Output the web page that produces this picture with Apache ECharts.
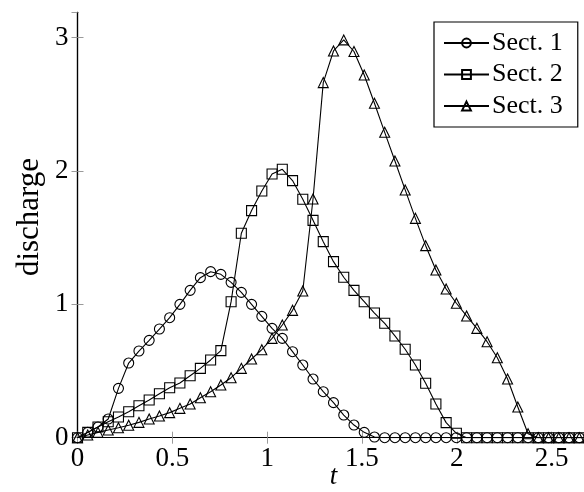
<!DOCTYPE html>
<html>
<head>
<meta charset="utf-8">
<script src="https://cdn.jsdelivr.net/npm/echarts@6/dist/echarts.min.js"></script>
<style>
  html, body { margin: 0; padding: 0; background: #fff; }
  #chart { width: 584px; height: 492px; }
</style>
</head>
<body>
<div id="chart"></div>
<script>
// Sample times (t)
const tValues = [
  0, 0.054, 0.108, 0.162, 0.216, 0.27, 0.324, 0.378, 0.432, 0.486,
  0.54, 0.594, 0.648, 0.702, 0.756, 0.81, 0.864, 0.918, 0.972, 1.026,
  1.08, 1.134, 1.188, 1.242, 1.296, 1.35, 1.404, 1.458, 1.512, 1.566,
  1.62, 1.674, 1.728, 1.782, 1.836, 1.89, 1.944, 1.998, 2.052, 2.106,
  2.16, 2.214, 2.268, 2.322, 2.376, 2.43, 2.484, 2.538, 2.592, 2.646, 2.7
];

// Discharge at each section
const sect1 = [
  0, 0.04, 0.08, 0.14, 0.37, 0.56, 0.65, 0.73, 0.815, 0.90,
  1.0, 1.105, 1.20, 1.245, 1.225, 1.165, 1.09, 1.0, 0.91, 0.82,
  0.745, 0.645, 0.545, 0.44, 0.345, 0.263, 0.17, 0.095, 0.04, 0.005,
  0, 0, 0, 0, 0, 0, 0, 0, 0, 0,
  0, 0, 0, 0, 0, 0, 0, 0, 0, 0, 0
];
const sect2 = [
  0, 0.04, 0.08, 0.12, 0.155, 0.195, 0.24, 0.283, 0.33, 0.375,
  0.41, 0.465, 0.52, 0.583, 0.653, 1.02, 1.533, 1.703, 1.85, 1.978,
  2.013, 1.928, 1.788, 1.63, 1.47, 1.32, 1.203, 1.105, 1.02, 0.935,
  0.858, 0.763, 0.663, 0.545, 0.408, 0.253, 0.113, 0.033, 0, 0,
  0, 0, 0, 0, 0, 0, 0, 0, 0, 0, 0
];
const sect3 = [
  0, 0.02, 0.04, 0.058, 0.075, 0.093, 0.115, 0.14, 0.163, 0.188,
  0.22, 0.253, 0.30, 0.345, 0.395, 0.45, 0.52, 0.59, 0.66, 0.745,
  0.845, 0.955, 1.10, 1.79, 2.663, 2.90, 2.983, 2.896, 2.72, 2.508,
  2.29, 2.075, 1.858, 1.645, 1.44, 1.258, 1.115, 1.008, 0.913, 0.82,
  0.72, 0.60, 0.44, 0.23, 0.03, 0, 0, 0, 0, 0, 0
];

const seriesNames = ['Sect. 1', 'Sect. 2', 'Sect. 3'];
const seriesSymbols = ['circle', 'rect', 'triangle'];
const xTickLabels = [0, 0.5, 1, 1.5, 2, 2.5];
const yTickLabels = [0, 1, 2, 3];

const FONT = "'Liberation Serif', 'Times New Roman', serif";
const tickStyle = { show: true, inside: true, length: 6, lineStyle: { color: '#9a9a9a', width: 1 } };
const frameLine = { show: true, lineStyle: { color: '#000', width: 1.2 } };

function pairs(values) {
  return tValues.map((t, i) => [t, values[i]]);
}

const allSeries = [sect1, sect2, sect3].map((vals, k) => ({
  name: seriesNames[k],
  type: 'line',
  data: pairs(vals),
  xAxisIndex: 0,
  yAxisIndex: 0,
  symbol: seriesSymbols[k],
  symbolSize: 10,
  showSymbol: true,
  showAllSymbol: true,
  lineStyle: { color: '#000', width: 1.1 },
  itemStyle: { color: 'rgba(0,0,0,0)', borderColor: '#000', borderWidth: 1.1 },
  emphasis: { disabled: true },
  z: 3 + k
}));

const chart = echarts.init(document.getElementById('chart'), null, { renderer: 'canvas' });
chart.setOption({
  animation: false,
  backgroundColor: '#fff',
  grid: {
    left: 77.5, top: 12.3, width: 512, height: 425.4,
    containLabel: false, outerBoundsMode: 'none'
  },
  legend: {
    data: seriesNames,
    orient: 'vertical',
    left: 434,
    top: 22,
    padding: [7, 15, 7, 9],
    itemGap: 3.5,
    itemWidth: 45,
    itemHeight: 11,
    borderColor: '#000',
    borderWidth: 1.2,
    backgroundColor: '#fff',
    textStyle: { fontFamily: FONT, fontSize: 26, color: '#000', lineHeight: 28, padding: [0, 0, 0, -2] }
  },
  xAxis: [
    {
      type: 'value', position: 'bottom', min: 0, max: 2.7, interval: 0.5,
      name: 't', nameLocation: 'middle', nameGap: 26, nameMoveOverlap: false,
      nameTextStyle: { fontFamily: FONT, fontSize: 27, fontStyle: 'italic', color: '#000' },
      axisLine: frameLine, axisTick: tickStyle, splitLine: { show: false },
      axisLabel: {
        fontFamily: FONT, fontSize: 27, color: '#000', margin: 8,
        showMaxLabel: false,
        formatter: v => (xTickLabels.some(x => Math.abs(x - v) < 1e-9) ? String(v) : '')
      }
    },
    {
      type: 'value', position: 'top', min: 0, max: 2.7, interval: 0.5,
      axisLine: frameLine, axisTick: tickStyle, axisLabel: { show: false }, splitLine: { show: false }
    }
  ],
  yAxis: [
    {
      type: 'value', position: 'left', min: 0, max: 3.19, interval: 1,
      name: 'discharge', nameLocation: 'middle', nameGap: 32, nameRotate: 90, nameMoveOverlap: false,
      nameTextStyle: { fontFamily: FONT, fontSize: 31, color: '#000', padding: [0, 0, 0, 16] },
      axisLine: frameLine, axisTick: tickStyle, splitLine: { show: false },
      axisLabel: {
        fontFamily: FONT, fontSize: 27, color: '#000', margin: 9,
        showMaxLabel: false,
        formatter: v => (yTickLabels.some(y => Math.abs(y - v) < 1e-9) ? String(v) : '')
      }
    },
    {
      type: 'value', position: 'right', min: 0, max: 3.19, interval: 1,
      axisLine: frameLine, axisTick: tickStyle, axisLabel: { show: false }, splitLine: { show: false }
    }
  ],
  series: allSeries
});
</script>
</body>
</html>
